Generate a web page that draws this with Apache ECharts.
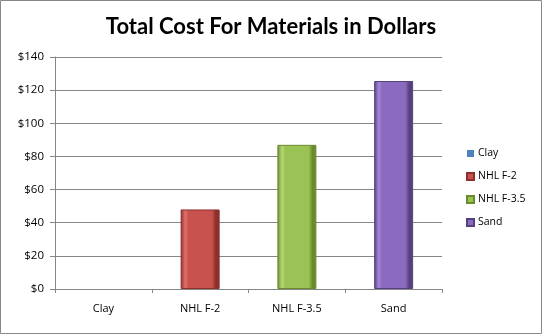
<!DOCTYPE html>
<html><head><meta charset="utf-8">
<script src="https://cdn.jsdelivr.net/npm/echarts@6/dist/echarts.min.js"></script>
<style>html,body{margin:0;padding:0;background:#fff}#c{width:542px;height:334px}</style>
</head><body><div id="c"></div>
<script>
const categories = ['Clay', 'NHL F-2', 'NHL F-3.5', 'Sand'];
const seriesNames = ['Clay', 'NHL F-2', 'NHL F-3.5', 'Sand'];
const values = [0, 48, 87, 125.5];
const yTicks = [0, 20, 40, 60, 80, 100, 120, 140];
const colors = [
  ['#2c4d75', '#4f81bd', '#6f9bd1'],
  ['#8e2f2c', '#c8524e', '#e0706b'],
  ['#6b8a2e', '#9bc254', '#b7d878'],
  ['#574080', '#8a6bbf', '#a588d6']
];
function grad(c){
  return new echarts.graphic.LinearGradient(0,0,1,0,[
    {offset:0,color:c[0]},{offset:0.12,color:c[2]},{offset:0.2,color:c[1]},
    {offset:0.8,color:c[1]},{offset:0.9,color:c[0]},{offset:1,color:c[0]}]);
}
const series = seriesNames.map((n,i)=>({
  name:n, type:'bar', stack:'s', barWidth:39,
  data: categories.map((c,j)=> j===i ? values[i] : '-'),
  itemStyle:{color:grad(colors[i]), borderColor:colors[i][0], borderWidth: values[i] > 0 ? 1 : 0}
}));
const chart = echarts.init(document.getElementById('c'));
chart.setOption({
  animation:false,
  backgroundColor:'#fff',
  graphic:[{type:'rect',shape:{x:0.5,y:0.5,width:541,height:333},style:{fill:'none',stroke:'#878787',lineWidth:1},z:-1}],
  title:{text:'Total Cost For Materials in Dollars',left:'center',top:11,
    textStyle:{fontFamily:'Lato',fontWeight:'bold',fontSize:22,color:'#000'}},
  legend:{orient:'vertical',left:461,top:143,itemWidth:7,itemHeight:7,itemGap:12,icon:'rect',
    data:seriesNames.map((n,i)=>({name:n,itemStyle:{color:colors[i][1]}})),
    textStyle:{fontFamily:'Open Sans',fontSize:10.5,color:'#000',padding:[0,0,0,-1]}},
  grid:{left:55,right:100,top:57,bottom:45},
  xAxis:{type:'category',data:categories,
    axisLine:{lineStyle:{color:'#868686'}},
    axisTick:{show:true,length:4,lineStyle:{color:'#868686'}},
    axisLabel:{margin:14,fontFamily:'Open Sans',fontSize:11,color:'#000'}},
  yAxis:{type:'value',min:0,max:140,interval:20,
    axisLine:{show:true,lineStyle:{color:'#868686'}},
    axisTick:{show:true,length:5,lineStyle:{color:'#868686'}},
    splitLine:{lineStyle:{color:'#868686'}},
    axisLabel:{margin:11,fontFamily:'Open Sans',fontSize:11.5,color:'#000',
      formatter:v=> yTicks.includes(v) ? '$'+v : ''}},
  series
});
</script></body></html>
